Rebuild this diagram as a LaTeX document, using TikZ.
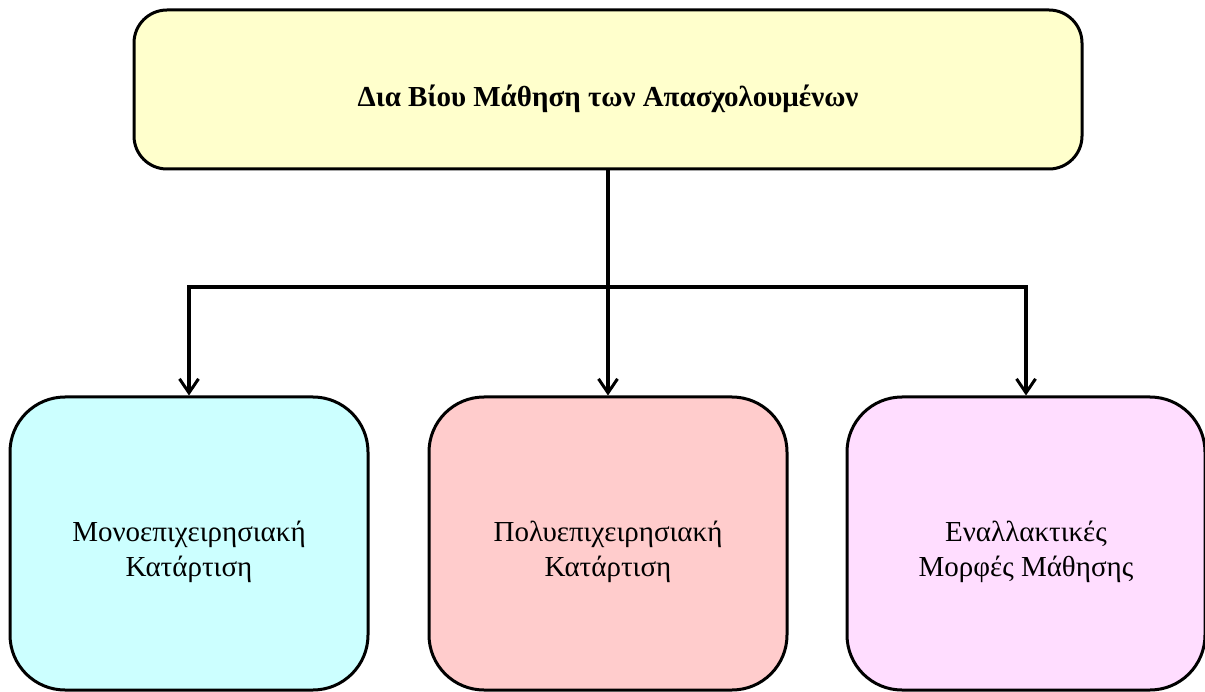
\documentclass[tikz,border=0pt]{standalone}
\usepackage{fontspec}
\setmainfont{Liberation Serif}
\usepackage{tikz}
\usetikzlibrary{positioning, arrows.meta}

\definecolor{topyellow}{HTML}{FFFFCC}
\definecolor{monocyan}{HTML}{CCFFFF}
\definecolor{polypink}{HTML}{FFCCCC}
\definecolor{altlilac}{HTML}{FFDDFF}
\newcommand{\lowstrut}{\rule{0pt}{37pt}}

\begin{document}
\begin{tikzpicture}[x=1pt, y=1pt]
	
	\tikzstyle{topblock} = [rectangle, draw, line width=3pt, fill=topyellow, rounded corners=33pt, minimum width=948pt, minimum height=159pt, inner sep=0pt, text height=41pt, text depth=6pt, font=\fontsize{29}{35}\selectfont\bfseries]
	\tikzstyle{subblock} = [rectangle, draw, line width=3pt, rounded corners=55pt, minimum width=358pt, minimum height=293pt, inner sep=0pt, align=center, font=\fontsize{29}{35}\selectfont]
	\tikzstyle{line} = [draw, line width=3.5pt, -{Straight Barb[length=14pt, width=19pt, line width=3pt]}]
	
	\useasboundingbox (0,0) rectangle (1205,-692);
	
	\node [topblock] (top) at (608,-89.5) {Δια Βίου Μάθηση των Απασχολουμένων};
	\node [subblock, fill=polypink, below of=top, node distance=454pt] (poly) {\lowstrut Πολυεπιχειρησιακή\\Κατάρτιση};
	\node [subblock, fill=monocyan, left of=poly, node distance=419pt] (mono) {\lowstrut Μονοεπιχειρησιακή\\Κατάρτιση};
	\node [subblock, fill=altlilac, right of=poly, node distance=418pt] (alt) {\lowstrut Εναλλακτικές\\Μορφές Μάθησης};
	\coordinate [below of=top, node distance=197.5pt] (split);
	
	\path [line] (top) -- (poly);
	\path [line] (split) -| (mono);
	\path [line] (split) -| (alt);
	\end{tikzpicture}
\end{document}
